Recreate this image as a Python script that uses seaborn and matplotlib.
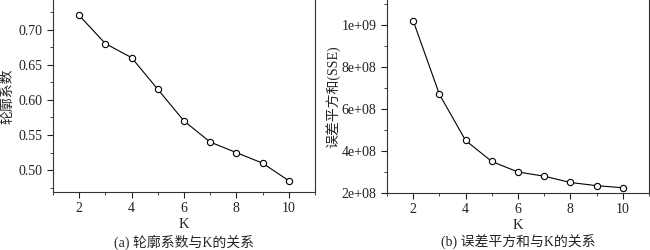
import matplotlib
matplotlib.use("Agg")
import matplotlib.pyplot as plt
import seaborn as sns
import pandas as pd
from matplotlib.ticker import MultipleLocator, FuncFormatter

k_values = [2, 3, 4, 5, 6, 7, 8, 9, 10]
silhouette = [0.72, 0.68, 0.66, 0.615, 0.57, 0.54, 0.525, 0.51, 0.485]
sse = [1.02e9, 6.7e8, 4.5e8, 3.5e8, 3.0e8, 2.8e8, 2.5e8, 2.35e8, 2.25e8]

sns.set_style("ticks")
plt.rcParams['font.family'] = ['Liberation Serif', 'Noto Sans CJK SC']
plt.rcParams['axes.unicode_minus'] = False

df = pd.DataFrame({"K": k_values, "sil": silhouette, "sse": sse})

fig = plt.figure(figsize=(6.5, 2.5), dpi=100)
ax1 = fig.add_axes([53/650, 58/250, 262/650, 192/250])
ax2 = fig.add_axes([387/650, 57/250, 262/650, 193/250])

line_kw = dict(marker="o", color="black", linewidth=0.8, markersize=4.5,
               markerfacecolor="white", markeredgecolor="black", markeredgewidth=0.8)

sns.lineplot(data=df, x="K", y="sil", ax=ax1, **line_kw)
sns.lineplot(data=df, x="K", y="sse", ax=ax2, **line_kw)

for ax in (ax1, ax2):
    ax.set_xlim(1, 11)
    ax.xaxis.set_major_locator(MultipleLocator(2))
    ax.xaxis.set_minor_locator(MultipleLocator(1))
    ax.spines['top'].set_visible(False)
    for s in ('left', 'bottom', 'right'):
        ax.spines[s].set_color('#333333')
        ax.spines[s].set_linewidth(0.8)
    ax.tick_params(which='major', direction='out', length=4, width=0.8, labelsize=10, colors='#222222')
    ax.tick_params(which='minor', direction='out', length=2, width=0.6, colors='#222222')
    ax.set_xlabel("K", fontsize=10.5)
    ax.xaxis.set_label_coords(0.5, -0.135)

ax1.set_ylim(0.469, 0.742)
ax1.yaxis.set_major_locator(MultipleLocator(0.05))
ax1.yaxis.set_minor_locator(MultipleLocator(0.025))
ax1.yaxis.set_major_formatter(FuncFormatter(lambda v, p: f"{v:.2f}"))
ax1.set_ylabel("轮廓系数", fontsize=10)
ax1.yaxis.set_label_coords(-0.148, 0.5)

ax2.set_ylim(2e8, 1.119e9)
ax2.yaxis.set_major_locator(MultipleLocator(2e8))
ax2.yaxis.set_minor_locator(MultipleLocator(1e8))
ax2.yaxis.set_major_formatter(FuncFormatter(lambda v, p: f"{v:.0e}"))
ax2.set_ylabel("误差平方和(SSE)", fontsize=10)
ax2.yaxis.set_label_coords(-0.175, 0.5)

fig.text((53 + 131)/650, 7.5/250, "(a) 轮廓系数与K的关系", ha='center', va='center', fontsize=10)
fig.text((387 + 131)/650, 7.5/250, "(b) 误差平方和与K的关系", ha='center', va='center', fontsize=10)

fig.savefig("out.png", dpi=100)
